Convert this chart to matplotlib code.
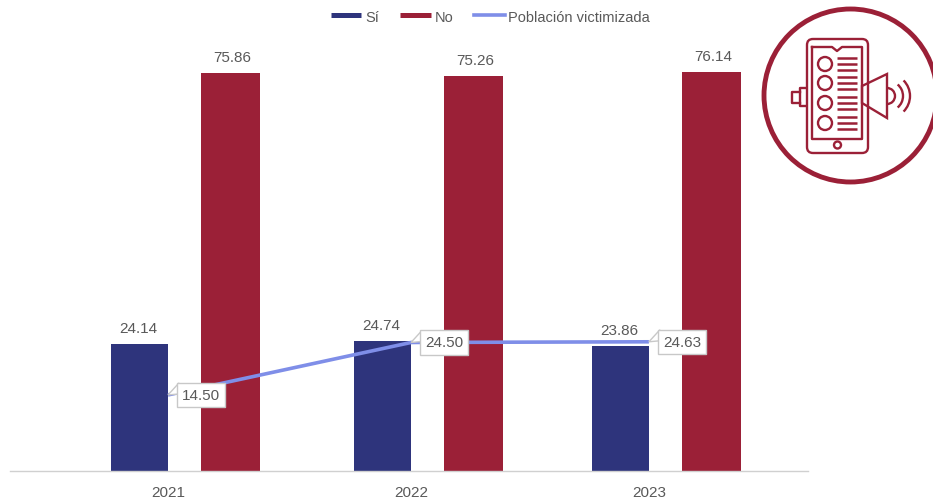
import numpy as np
import matplotlib
matplotlib.use("Agg")
import matplotlib.pyplot as plt
from matplotlib.lines import Line2D
from matplotlib.patches import Circle, FancyBboxPatch, Polygon, Arc
from matplotlib.transforms import Affine2D

plt.rcParams["font.family"] = ["Liberation Sans", "DejaVu Sans"]

# Data
years = ["2021", "2022", "2023"]
si = [24.14, 24.74, 23.86]
no = [75.86, 75.26, 76.14]
victimizada = [14.50, 24.50, 24.63]

NAVY = "#2E347C"
RED = "#9B2037"
BLUE = "#7F8EE8"
GREY = "#595959"
FS = 11

# the categories are not quite evenly spaced in the original
x = np.array([0, 1, 1.979])
PX = 243  # pixels per category

fig = plt.figure(figsize=(9.33, 5.02), dpi=100)
ax = fig.add_axes([10 / 933, (502 - 472) / 502, 798 / 933, 472 / 502])
ax.set_xlim(-158 / PX, 640 / PX)
ax.set_ylim(0, 472 / 5.246)
ax.patch.set_alpha(0)

ax.bar(x - 28.5 / PX, si, 57 / PX, color=NAVY, zorder=2)
ax.bar(x + 62.4 / PX, no, 59 / PX, color=RED, zorder=2)
ax.plot(x, victimizada, color=BLUE, lw=2.6, solid_capstyle="butt", zorder=3)

for s in ["top", "left", "right"]:
    ax.spines[s].set_visible(False)
ax.spines["bottom"].set_color("#D0D0D0")
ax.spines["bottom"].set_linewidth(1.0)
ax.set_yticks([])
ax.set_xticks(x, years)
ax.tick_params(axis="x", length=0, pad=10, labelsize=FS, labelcolor=GREY)

# Value labels over the bars
for i in range(3):
    ax.annotate(f"{si[i]:.2f}", (x[i] - 30 / PX, si[i]), xytext=(0, 9), textcoords="offset pixels",
                ha="center", va="bottom", fontsize=FS, color=GREY)
    ax.annotate(f"{no[i]:.2f}", (x[i] + 64 / PX, no[i]), xytext=(0, 9), textcoords="offset pixels",
                ha="center", va="bottom", fontsize=FS, color=GREY)

# Callout labels on the line
for i in range(3):
    to_px = Affine2D().translate(*ax.transData.transform((x[i], victimizada[i])))
    tip = Polygon([(0, 0), (11, 12), (11, 1)], closed=True, fc="white", ec="#C8C8C8", lw=1,
                  transform=to_px, zorder=4, clip_on=False)
    ax.add_patch(tip)
    ax.annotate(f"{victimizada[i]:.2f}", (x[i], victimizada[i]), xytext=(33, 0),
                textcoords="offset pixels", ha="center", va="center", fontsize=FS, color=GREY,
                zorder=5, bbox=dict(boxstyle="square,pad=0.33", fc="white", ec="#C8C8C8", lw=1))

# Legend
handles = [Line2D([], [], color=NAVY, lw=3.6, solid_capstyle="butt"),
           Line2D([], [], color=RED, lw=3.6, solid_capstyle="butt"),
           Line2D([], [], color=BLUE, lw=2.6)]
leg = fig.legend(handles, ["Sí", "No", "Población victimizada"], loc="center",
                 bbox_to_anchor=(490.5 / 933, 1 - 17.5 / 502), ncol=3, frameon=False, fontsize=10.5,
                 handlelength=2.1, handletextpad=0.25, columnspacing=1.45, labelcolor=GREY)

# Icon, drawn in pixel coordinates of the figure
ic = fig.add_axes([0, 0, 1, 1])
ic.set_xlim(0, 933)
ic.set_ylim(502, 0)
ic.axis("off")
ic.patch.set_alpha(0)


def outline(p):
    p.set(fc="none", ec=RED, lw=1.7)
    ic.add_patch(p)


ic.add_patch(Circle((850.5, 96.5), 86.5, fc="white", ec=RED, lw=3.5))
outline(FancyBboxPatch((807, 40), 61, 114, boxstyle="round,pad=0,rounding_size=6"))
ic.plot([812, 832, 837, 842, 862, 862, 812, 812], [48, 48, 52, 48, 48, 140, 140, 48], color=RED, lw=1.7)
outline(Circle((837.5, 146), 3.5))
for cy in [65, 84, 104, 124]:
    outline(Circle((825, cy), 7))
    for dy in [-6, 0, 6]:
        ic.plot([837, 857], [cy + dy, cy + dy], color=RED, lw=1.8, solid_capstyle="butt")
outline(Polygon([(862, 87), (887, 75), (887, 119), (862, 104)], closed=True))
ic.plot([806, 800, 800, 806], [89, 89, 107, 107], color=RED, lw=1.7)
ic.plot([800, 792, 792, 800], [93, 93, 104, 104], color=RED, lw=1.7)
outline(Arc((887, 97), 16, 16, theta1=-90, theta2=90))
outline(Arc((888, 97), 30, 30, theta1=-50, theta2=50))
outline(Arc((888, 97), 44, 44, theta1=-45, theta2=45))

fig.savefig("out.png", dpi=100)
